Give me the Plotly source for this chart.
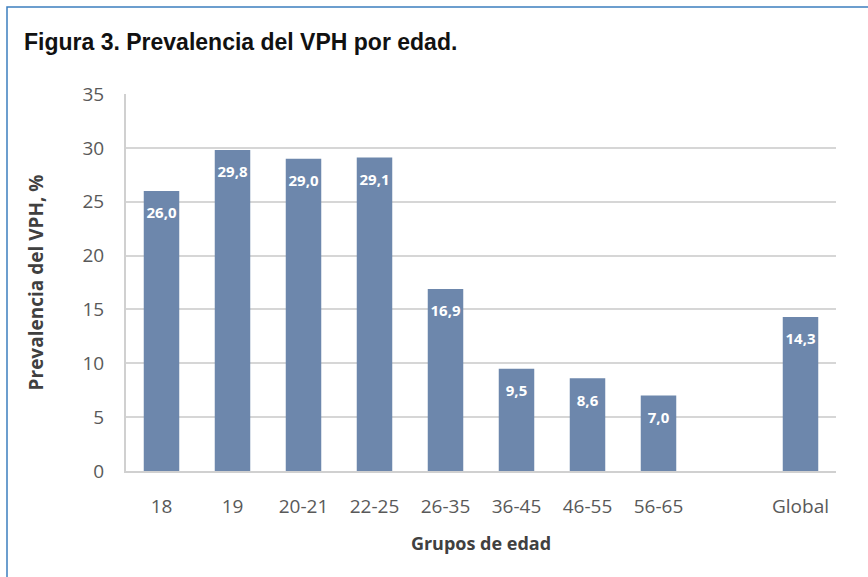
import plotly.graph_objects as go

# grupos de edad (hay un hueco vacío antes de "Global")
grupos = ["18", "19", "20-21", "22-25", "26-35", "36-45", "46-55", "56-65", " ", "Global"]
prevalencia = [26.0, 29.8, 29.0, 29.1, 16.9, 9.5, 8.6, 7.0, None, 14.3]
etiquetas = ["26,0", "29,8", "29,0", "29,1", "16,9", "9,5", "8,6", "7,0", "", "14,3"]

W, H = 868, 577
ml, mr, mt, mb = 126, 32, 94, 106
pw, ph = W - ml - mr, H - mt - mb


def px_x(x):
    return (x - ml) / pw


def px_y(y):
    return (H - mb - y) / ph


fig = go.Figure()
fig.add_trace(go.Bar(
    x=grupos,
    y=prevalencia,
    marker=dict(color="#6d87ac", line=dict(width=0)),
    width=0.5,
    hoverinfo="skip",
))

# etiquetas de valor dentro de las barras, algo por debajo del borde superior
# (marcador invisible para desplazar el texto hacia abajo)
fig.add_trace(go.Scatter(
    x=grupos,
    y=prevalencia,
    text=etiquetas,
    mode="markers+text",
    textposition="bottom center",
    marker=dict(size=24, opacity=0),
    textfont=dict(family="Open Sans", size=15, color="white", weight="bold"),
    hoverinfo="skip",
))

fig.update_layout(
    width=W, height=H,
    margin=dict(l=ml, r=mr, t=mt, b=mb),
    plot_bgcolor="white",
    paper_bgcolor="white",
    showlegend=False,
    font=dict(family="Open Sans", color="#595959"),
    xaxis=dict(
        type="category", range=[-0.5, len(grupos) - 0.5],
        tickfont=dict(size=19, color="#595959"), tickangle=0, automargin=False,
        ticks="", showgrid=False, ticklabelstandoff=17,
        showline=True, linecolor="#d0d0d0", linewidth=2,
        title=dict(text="Grupos de edad", standoff=20,
                   font=dict(size=18, color="#404040", weight="bold")),
    ),
    yaxis=dict(
        range=[0, 35], dtick=5, automargin=False,
        tickfont=dict(size=19, color="#595959"),
        showgrid=True, gridcolor="#d6d6d6", gridwidth=2,
        showline=True, linecolor="#d0d0d0", linewidth=2,
        zeroline=False, ticks="", ticklabelstandoff=16,
        title=dict(text="Prevalencia del VPH, %", standoff=34,
                   font=dict(size=19, color="#404040", weight="bold")),
    ),
    annotations=[dict(
        text="Figura 3. Prevalencia del VPH por edad.",
        xref="paper", yref="paper", x=px_x(22), y=px_y(42),
        xanchor="left", yanchor="middle", showarrow=False,
        font=dict(family="Liberation Sans", size=23, color="#111111", weight="bold"),
    )],
    shapes=[dict(
        type="path", xref="paper", yref="paper",
        path=f"M {px_x(7)},{px_y(H + 5)} L {px_x(7)},{px_y(7)} L {px_x(W + 5)},{px_y(7)}",
        line=dict(color="#3d7fbf", width=1.5),
    )],
)

fig.write_html("out.html", config={"displayModeBar": False},
               post_script="document.body.style.margin='0';")
